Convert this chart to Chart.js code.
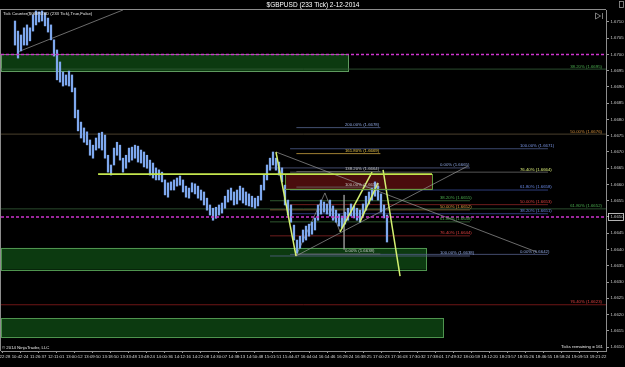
<!DOCTYPE html>
<html><head><meta charset="utf-8">
<script src="https://cdn.jsdelivr.net/npm/chart.js@4.4.1/dist/chart.umd.min.js"></script>
<style>html,body{margin:0;padding:0;background:#000;overflow:hidden}#wrap{width:625px;height:367px;position:relative}</style>
</head><body><div id="wrap"><canvas id="c"></canvas></div>
<script>
// ---------- data ----------
const chartTitle = '$GBPUSD (233 Tick) 2-12-2014';
const timeLabels = ['10:22:28','10:42:24','11:26:37','12:11:01','13:00:12','13:09:50','13:18:50','13:33:48','13:48:24','14:00:36','14:12:16','14:22:08','14:30:07','14:38:13','14:50:48','15:01:51','15:44:47','16:04:04','16:14:46','16:28:24','16:38:25','17:00:23','17:16:03','17:30:32','17:38:01','17:49:32','18:00:59','18:12:20','18:23:57','18:35:26','18:46:55','18:58:24','19:09:53','19:21:22'];
const barHighs = [1.67103,1.67072,1.67060,1.67082,1.67091,1.67082,1.67122,1.67134,1.67131,1.67134,1.67128,1.67112,1.67091,1.67045,1.67014,1.66977,1.66946,1.66937,1.66949,1.66937,1.66897,1.66829,1.66792,1.66774,1.66762,
1.66737,1.66721,1.66743,1.66758,1.66761,1.66752,1.66690,1.66660,1.66712,1.66730,1.66721,1.66681,1.66690,1.66712,1.66715,1.66721,1.66718,1.66706,1.66700,1.66690,1.66675,1.66666,1.66651,1.66645,1.66638,
1.66614,1.66605,1.66608,1.66614,1.66620,1.66626,1.66614,1.66595,1.66589,1.66605,1.66602,1.66595,1.66583,1.66577,1.66558,1.66537,1.66527,1.66530,1.66537,1.66543,1.66564,1.66583,1.66589,1.66577,1.66583,
1.66595,1.66589,1.66577,1.66571,1.66564,1.66558,1.66564,1.66598,1.66629,1.66660,1.66681,1.66700,1.66681,1.66669,1.66651,1.66598,1.66552,1.66537,1.66475,1.66429,1.66441,1.66460,1.66472,1.66478,1.66484,
1.66497,1.66537,1.66552,1.66546,1.66540,1.66552,1.66534,1.66521,1.66509,1.66503,1.66515,1.66527,1.66540,1.66534,1.66527,1.66521,1.66540,1.66564,1.66577,1.66589,1.66608,1.66595,1.66571,1.66537,1.66506];
const barLows = [1.67029,1.66989,1.67011,1.67029,1.67029,1.67042,1.67072,1.67091,1.67100,1.67103,1.67088,1.67069,1.67045,1.66995,1.66922,1.66915,1.66903,1.66906,1.66903,1.66885,1.66805,1.66765,1.66743,1.66730,1.66722,
1.66690,1.66681,1.66706,1.66712,1.66706,1.66681,1.66638,1.66629,1.66660,1.66690,1.66675,1.66638,1.66650,1.66669,1.66675,1.66681,1.66669,1.66666,1.66654,1.66650,1.66629,1.66620,1.66614,1.66614,1.66608,
1.66568,1.66561,1.66583,1.66583,1.66595,1.66598,1.66577,1.66561,1.66558,1.66577,1.66571,1.66558,1.66552,1.66537,1.66521,1.66506,1.66490,1.66496,1.66506,1.66512,1.66527,1.66546,1.66552,1.66537,1.66540,
1.66552,1.66543,1.66537,1.66534,1.66531,1.66527,1.66534,1.66552,1.66583,1.66614,1.66644,1.66660,1.66644,1.66629,1.66608,1.66537,1.66506,1.66484,1.66429,1.66389,1.66404,1.66423,1.66429,1.66441,1.66447,
1.66460,1.66490,1.66509,1.66515,1.66509,1.66503,1.66490,1.66484,1.66472,1.66466,1.66478,1.66490,1.66503,1.66497,1.66490,1.66484,1.66503,1.66521,1.66540,1.66552,1.66564,1.66552,1.66515,1.66497,1.66423];
const firstBarX = 0.72, barStep = 0.1661;   // bar slots, in time-label units
const currentPrice = 1.6650;
const alertPrices = [1.6700, 1.6650];
// zones: [start, end, top, bottom]
const zoneStart = [null, null, null, 15.67];
const zoneEnd = [19.16, 23.48, 24.42, 23.81];
const zoneTop = [1.67000, 1.66405, 1.66189, 1.66632];
const zoneBottom = [1.66949, 1.66338, 1.66131, 1.66585];
// pattern lines [x0, price0, x1, price1]
const patternLines = [[15.17,1.66700,16.28,1.66380],[18.72,1.66454,20.49,1.66638],[19.82,1.66485,20.82,1.66605],[21.10,1.66645,22.04,1.66318]];
const thinLines = [[0.886,1.67008,6.70,1.67137],[15.17,1.66700,29.62,1.66392],[16.28,1.66380,25.80,1.66657],[16.28,1.66380,17.88,1.66574],[17.88,1.66574,18.72,1.66454],[18.94,1.66568,18.94,1.66400]];
const levelLines = [[5.32,1.66632,23.81,1.66632],[15.67,1.66585,23.81,1.66585]];
// fibonacci levels
const fibAPrices = [1.66775,1.66695,1.66640,1.66592,1.66386];
const fibATexts = ['200.00% (1.6678)','161.80% (1.6669)','138.20% (1.6664)','100.00% (1.6659)','0.00% (1.6638)'];
const fibBPrices = [1.66651,1.66550,1.66522,1.66485,1.66442,1.66380];
const fibBTexts = ['0.00% (1.6665)','38.20% (1.6655)','50.00% (1.6652)','61.80% (1.6648)','76.40% (1.6644)','100.00% (1.6638)'];
const fibCPrices = [1.66710,1.66638,1.66583,1.66538,1.66510,1.66385];
const fibCTexts = ['100.00% (1.6671)','76.40% (1.6664)','61.80% (1.6658)','50.00% (1.6653)','38.20% (1.6651)','0.00% (1.6642)'];
const fibDPrices = [1.66955,1.66755,1.66525,1.66230];
const fibDTexts = ['38.20% (1.6695)','50.00% (1.6676)','61.80% (1.6652)','76.40% (1.6623)'];
const tickCounterText = 'Tick Counter($GBPUSD (233 Tick),True,False)';
const ticksRemainingText = 'Ticks remaining = 161';
const copyrightText = '\u00A9 2014 NinjaTrader, LLC';

// ---------- layout / style ----------
const X_MIN = -0.0554, X_MAX = 33.443, Y_MIN = 1.660877, Y_MAX = 1.671369;
const FONT = '"Liberation Sans", Arial, sans-serif';
const fibGroups = [
  {prices: fibAPrices, texts: fibATexts, x0: 16.30, x1: 20.95, textX: 18.99, align: 'left',
   textColors: ['#8ea6e0','#e8c44a','#c8c8c8','#c8c8c8','#c8c8c8'], lineColors: ['#56648e','#c8a040','#6a6a6a','#6a6a6a','#6a6a6a']},
  {prices: fibBPrices, texts: fibBTexts, x0: 14.84, x1: 25.91, textX: 24.25, align: 'left',
   textColors: ['#8ea6e0','#4caf50','#e0a040','#4caf50','#e04040','#8ea6e0'], lineColors: ['#55608a','#3c6e3c','#8a6a3a','#3c6e3c','#8a2424','#55608a']},
  {prices: fibCPrices, texts: fibCTexts, x0: 15.95, x1: 30.23, textX: 28.68, align: 'left',
   textColors: ['#7a96e6','#dcf07a','#6a8ae8','#e04040','#6a8ae8','#8ea6e0'], lineColors: ['#4a5a8a','#6a6a6a','#3a4c9a','#8a2424','#3a4c9a','#55608a']},
  {prices: fibDPrices, texts: fibDTexts, x0: X_MIN, x1: X_MAX, textX: 33.22, align: 'right',
   textColors: ['#4caf50','#d4903c','#4caf50','#e04040'], lineColors: ['#35603a','#5e5038','#35603a','#8a1c1c']}
];
const zoneFill = ['#0c3a10','#0c3a10','#0c3a10','#4a0d0d'];
const zoneEdge = ['#5f9a5f','#4f944f','#4f944f','#5e9a3c'];

function seg(x0, y0, x1, y1, color, width, dash, order) {
  return {type: 'line', data: [{x: x0, y: y0}, {x: x1, y: y1}], borderColor: color, borderWidth: width,
    borderDash: dash || [], pointRadius: 0, fill: false, tension: 0, order: order};
}
const datasets = [];
datasets.push({type: 'bar', data: barHighs.map((h, i) => ({x: firstBarX + i * barStep, y: [barLows[i], h]})),
  backgroundColor: '#7ea8ee', borderWidth: 0, barThickness: 1.6, grouped: false, order: 2});
fibGroups.forEach(g => g.prices.forEach((p, i) => datasets.push(seg(g.x0, p, g.x1, p, g.lineColors[i], 0.8, null, 6))));
thinLines.forEach(l => datasets.push(seg(l[0], l[1], l[2], l[3], '#9a9a9a', 0.7, null, 5)));
levelLines.forEach((l, i) => datasets.push(seg(l[0], l[1], l[2], l[3], i === 0 ? '#c4e64e' : '#6aa040', i === 0 ? 1.6 : 1, null, 1)));
patternLines.forEach(l => datasets.push(seg(l[0], l[1], l[2], l[3], '#d4f070', 1.5, null, 1)));
alertPrices.forEach(p => datasets.push(seg(X_MIN, p, X_MAX, p, '#cc33cc', 1.6, [3, 2], 1)));

const zonesPlugin = {
  id: 'zones',
  beforeDatasetsDraw(chart) {
    const {ctx, scales: {x, y}, chartArea: a} = chart;
    ctx.save();
    ctx.beginPath(); ctx.rect(a.left, a.top, a.right - a.left, a.bottom - a.top); ctx.clip();
    zoneTop.forEach((t, i) => {
      const x0 = x.getPixelForValue(zoneStart[i] === null ? X_MIN : zoneStart[i]);
      const x1 = x.getPixelForValue(zoneEnd[i]);
      const y0 = y.getPixelForValue(t), y1 = y.getPixelForValue(zoneBottom[i]);
      ctx.fillStyle = zoneFill[i];
      ctx.fillRect(x0, y0, x1 - x0, y1 - y0);
      ctx.strokeStyle = zoneEdge[i]; ctx.lineWidth = 1;
      ctx.strokeRect(Math.round(x0) + 0.5, Math.round(y0) + 0.5, Math.round(x1 - x0), Math.round(y1 - y0));
    });
    ctx.restore();
  }
};
const textPlugin = {
  id: 'texts',
  afterDatasetsDraw(chart) {
    const {ctx, scales: {x, y}, chartArea: a} = chart;
    ctx.save();
    ctx.font = '4.3px ' + FONT;
    ctx.textBaseline = 'bottom';
    fibGroups.forEach(g => {
      ctx.textAlign = g.align;
      g.prices.forEach((p, i) => {
        ctx.fillStyle = g.textColors[i];
        ctx.fillText(g.texts[i], x.getPixelForValue(g.textX), y.getPixelForValue(p) - 0.6);
      });
    });
    ctx.fillStyle = '#e8e8e8';
    ctx.textAlign = 'left'; ctx.textBaseline = 'middle';
    ctx.fillText(tickCounterText, a.left + 2, a.top + 3.5);
    ctx.fillText(copyrightText, a.left + 1, a.bottom - 3);
    ctx.textAlign = 'right';
    ctx.fillText(ticksRemainingText, a.right - 3, a.bottom - 4);
    // frame
    ctx.strokeStyle = '#8c8c8c'; ctx.lineWidth = 1;
    ctx.beginPath();
    ctx.moveTo(0, a.top - 0.5); ctx.lineTo(a.right, a.top - 0.5);
    ctx.moveTo(0.5, a.top); ctx.lineTo(0.5, a.bottom);
    ctx.stroke();
    // scroll icon
    ctx.strokeStyle = '#9a9a9a'; ctx.lineWidth = 0.8;
    ctx.beginPath();
    ctx.moveTo(a.right - 10.5, a.top + 3); ctx.lineTo(a.right - 10.5, a.top + 9); ctx.lineTo(a.right - 5.5, a.top + 6); ctx.closePath();
    ctx.moveTo(a.right - 3.5, a.top + 3); ctx.lineTo(a.right - 3.5, a.top + 9);
    ctx.stroke();
    ctx.strokeRect(chart.width - 5.5, 1.5, 4, 6);
    // current price box
    const yp = y.getPixelForValue(currentPrice);
    ctx.strokeStyle = '#e0e0e0';
    ctx.strokeRect(a.right + 2.5, Math.round(yp) - 3.5, 15, 7);
    ctx.restore();
  }
};

new Chart(document.getElementById('c'), {
  type: 'line',
  data: {datasets},
  options: {
    responsive: true, maintainAspectRatio: false, animation: false, events: [],
    layout: {padding: {left: 1, right: 0, top: 0, bottom: 0}},
    plugins: {
      legend: {display: false}, tooltip: {enabled: false},
      title: {display: true, text: chartTitle, color: '#ffffff', font: {family: FONT, size: 6.5, weight: 'normal'}, padding: {top: 1, bottom: 1.2}}
    },
    scales: {
      x: {type: 'linear', min: X_MIN, max: X_MAX, offset: false,
        grid: {display: true, drawOnChartArea: false, drawTicks: true, tickLength: 2, color: '#9a9a9a', offset: false},
        border: {display: true, color: '#8c8c8c'},
        ticks: {stepSize: 1, includeBounds: false, autoSkip: false, maxRotation: 0, padding: 1, color: '#d8d8d8',
          font: {family: FONT, size: 4.3}, callback: v => timeLabels[v] !== undefined ? timeLabels[v] : ''},
        afterFit: s => { s.height = 16; s.paddingLeft = 0; s.paddingRight = 0; }},
      y: {type: 'linear', position: 'right', min: Y_MIN, max: Y_MAX,
        grid: {display: true, drawOnChartArea: false, drawTicks: true, tickLength: 3, color: '#9a9a9a'},
        border: {display: true, color: '#8c8c8c'},
        ticks: {stepSize: 0.0005, includeBounds: false, padding: 1.5, color: '#c8c8c8', font: {family: FONT, size: 4.3},
          callback: v => v.toFixed(4)},
        afterFit: s => { s.width = 19; s.paddingTop = 0; s.paddingBottom = 0; }}
    }
  },
  plugins: [zonesPlugin, textPlugin]
});
</script></body></html>
